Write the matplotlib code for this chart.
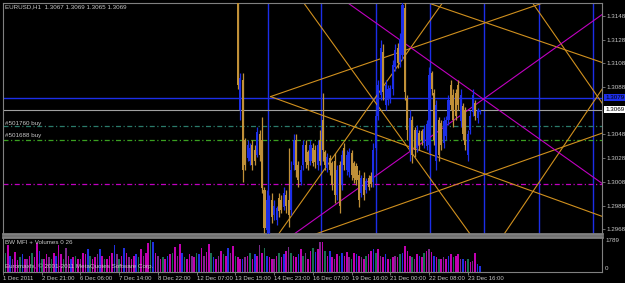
import matplotlib
matplotlib.use("Agg")
import matplotlib.pyplot as plt
import matplotlib.transforms as mtransforms

# EURUSD H1 candles (two hours per candle), position = bar index from 1 Dec 00:00
candle_bars = list(range(194, 396, 2))
opens = [1.3170, 1.3069, 1.3094, 1.3043, 1.3028, 1.3026, 1.3039, 1.3035, 1.3031, 1.3048,
         1.3043, 1.3001, 1.2967, 1.2969, 1.2993, 1.2980, 1.2976, 1.2994, 1.2993, 1.2987,
         1.2997, 1.2993, 1.2984, 1.3022, 1.3043, 1.3022, 1.3008, 1.3022, 1.3039, 1.3033,
         1.3026, 1.3037, 1.3035, 1.3022, 1.3043, 1.3060, 1.3033, 1.3020, 1.3028, 1.3024,
         1.3026, 1.2997, 1.3022, 1.3005, 1.3037, 1.3018, 1.3016, 1.3032, 1.3024, 1.3021,
         1.3014, 1.2999, 1.3011, 1.3001, 1.3011, 1.3013, 1.3008, 1.3037, 1.3064, 1.3081,
         1.3118, 1.3073, 1.3077, 1.3079, 1.3086, 1.3105, 1.3121, 1.3109, 1.3115, 1.3155,
         1.3079, 1.3035, 1.3060, 1.3052, 1.3037, 1.3049, 1.3051, 1.3041, 1.3038, 1.3039,
         1.3100, 1.3083, 1.3026, 1.3060, 1.3058, 1.3041, 1.3047, 1.3060, 1.3090, 1.3081,
         1.3083, 1.3090, 1.3059, 1.3072, 1.3069, 1.3031, 1.3052, 1.3067, 1.3075, 1.3062,
         1.3067]
highs = [1.3178, 1.3100, 1.3100, 1.3045, 1.3043, 1.3041, 1.3043, 1.3039, 1.3054, 1.3052,
         1.3063, 1.3004, 1.3001, 1.2997, 1.2999, 1.2993, 1.2988, 1.2999, 1.2997, 1.3004,
         1.3001, 1.3037, 1.3026, 1.3048, 1.3048, 1.3026, 1.3022, 1.3043, 1.3043, 1.3035,
         1.3043, 1.3041, 1.3039, 1.3043, 1.3052, 1.3083, 1.3035, 1.3032, 1.3031, 1.3026,
         1.3032, 1.3022, 1.3026, 1.3035, 1.3041, 1.3035, 1.3037, 1.3035, 1.3026, 1.3024,
         1.3018, 1.3014, 1.3016, 1.3011, 1.3014, 1.3016, 1.3041, 1.3069, 1.3094, 1.3128,
         1.3124, 1.3094, 1.3090, 1.3090, 1.3111, 1.3124, 1.3125, 1.3134, 1.3170, 1.3162,
         1.3081, 1.3069, 1.3064, 1.3054, 1.3056, 1.3052, 1.3053, 1.3056, 1.3060, 1.3105,
         1.3102, 1.3086, 1.3077, 1.3063, 1.3060, 1.3063, 1.3064, 1.3081, 1.3094, 1.3086,
         1.3086, 1.3094, 1.3086, 1.3075, 1.3071, 1.3052, 1.3069, 1.3086, 1.3077, 1.3070,
         1.3069]
lows = [1.3086, 1.3060, 1.3008, 1.3018, 1.3026, 1.3022, 1.3018, 1.3022, 1.3029, 1.3026,
        1.2999, 1.2965, 1.2964, 1.2964, 1.2973, 1.2976, 1.2972, 1.2978, 1.2982, 1.2984,
        1.2982, 1.2970, 1.2980, 1.3018, 1.3012, 1.3004, 1.3005, 1.3018, 1.3020, 1.3018,
        1.3022, 1.3021, 1.3020, 1.3018, 1.3022, 1.3026, 1.3018, 1.3016, 1.3014, 1.3001,
        1.2990, 1.2993, 1.2982, 1.3001, 1.3018, 1.3014, 1.3012, 1.3010, 1.3007, 1.3005,
        1.2987, 1.2995, 1.2993, 1.2999, 1.3001, 1.3004, 1.3004, 1.3035, 1.3060, 1.3077,
        1.3077, 1.3069, 1.3073, 1.3075, 1.3081, 1.3102, 1.3104, 1.3105, 1.3111, 1.3077,
        1.3043, 1.3026, 1.3024, 1.3029, 1.3033, 1.3035, 1.3039, 1.3037, 1.3035, 1.3032,
        1.3081, 1.3039, 1.3018, 1.3026, 1.3035, 1.3037, 1.3043, 1.3056, 1.3069, 1.3054,
        1.3060, 1.3069, 1.3054, 1.3043, 1.3035, 1.3026, 1.3048, 1.3064, 1.3060, 1.3058,
        1.3065]
closes = [1.3090, 1.3096, 1.3018, 1.3022, 1.3039, 1.3037, 1.3022, 1.3026, 1.3050, 1.3031,
          1.3003, 1.2969, 1.2993, 1.2988, 1.2978, 1.2988, 1.2986, 1.2983, 1.2984, 1.2999,
          1.2988, 1.2980, 1.3018, 1.3043, 1.3018, 1.3010, 1.3018, 1.3039, 1.3025, 1.3022,
          1.3039, 1.3024, 1.3025, 1.3039, 1.3026, 1.3035, 1.3022, 1.3029, 1.3018, 1.3005,
          1.2997, 1.3018, 1.2988, 1.3031, 1.3022, 1.3031, 1.3033, 1.3014, 1.3011, 1.3010,
          1.2993, 1.3011, 1.2997, 1.3009, 1.3004, 1.3006, 1.3035, 1.3064, 1.3090, 1.3121,
          1.3084, 1.3090, 1.3086, 1.3087, 1.3107, 1.3119, 1.3108, 1.3129, 1.3157, 1.3084,
          1.3052, 1.3062, 1.3031, 1.3035, 1.3052, 1.3039, 1.3043, 1.3053, 1.3057, 1.3098,
          1.3086, 1.3043, 1.3073, 1.3031, 1.3039, 1.3059, 1.3060, 1.3077, 1.3073, 1.3060,
          1.3064, 1.3073, 1.3081, 1.3048, 1.3039, 1.3048, 1.3064, 1.3081, 1.3064, 1.3069,
          1.3069]

# BW MFI + volumes, every second bar
volume_bars = list(range(0, 396, 2))
volumes = [700, 1050, 1500, 900, 750, 1100, 650, 850, 1000, 750,
           700, 900, 1050, 850, 1600, 1200, 750, 700, 1000, 850,
           750, 1050, 900, 1500, 1000, 750, 1350, 900, 700, 850,
           900, 750, 700, 1050, 1000, 1300, 900, 750, 850, 1000,
           1300, 900, 750, 700, 900, 1050, 1500, 1000, 750, 900,
           1350, 1050, 850, 750, 900, 1000, 850, 1300, 900, 1050,
           1600, 1789, 1650, 1050, 900, 750, 850, 700, 900, 1000,
           1050, 1400, 900, 1550, 1050, 850, 750, 1000, 900, 850,
           1050, 1000, 1350, 900, 1100, 1550, 1050, 850, 750, 900,
           1150, 1000, 900, 1350, 1050, 1450, 900, 850, 750, 700,
           850, 900, 1050, 750, 1000, 900, 1500, 1050, 1350, 900,
           850, 750, 700, 900, 1050, 850, 1000, 1150, 1400, 1050,
           900, 850, 1000, 1300, 900, 1050, 750, 1150, 1350, 1100,
           1300, 1650, 1700, 1150, 900, 1150, 850, 750, 1000, 900,
           1050, 900, 1100, 850, 750, 1050, 1000, 900, 850, 750,
           900, 1000, 1150, 1300, 1050, 1300, 900, 850, 1000, 750,
           700, 850, 900, 850, 1000, 1050, 1450, 1150, 900, 850,
           750, 1000, 900, 850, 1050, 1150, 1300, 1100, 900, 850,
           750, 700, 850, 750, 900, 1000, 850, 900, 1000, 750,
           700, 600, 750, 550, 600, 1050, 450, 350]
mfi_state = ("pgpbfppgbpfpgppbgp" "pfgpbppgfpbpgpfppb" "gppfbpgpppbfgpbpfp"
             "pbgpfppgbpfpgpbpgp" "fpbgppfpgbpfppgbpf" "pgpbfpgppbfpgpbpfp"
             "gbppfpgpbpfgppbpgf" "ppgbpfpgpbpfpgbppf" "gpbpfpgppbgpfpbpgp"
             "fpgbpppgfpbpgpfpbp" "gpfpbpgppfbpgpfpbb")

# time axis labels, one every 32 bars
time_labels = ["1 Dec 2011", "2 Dec 21:00", "6 Dec 06:00", "7 Dec 14:00", "8 Dec 22:00",
               "12 Dec 07:00", "13 Dec 15:00", "14 Dec 23:00", "16 Dec 07:00",
               "19 Dec 16:00", "21 Dec 00:00", "22 Dec 08:00", "23 Dec 16:00"]
time_ticks = list(range(0, 385, 32))
price_ticks = [1.2968, 1.2988, 1.3008, 1.3028, 1.3048, 1.3088, 1.3108, 1.3128, 1.3148]

# drawn objects: trendlines (bar, price) -> (bar, price)
orange_x0 = [221, 221, 340, 250, 220, 240, 410, 430]
orange_p0 = [1.3080, 1.3080, 1.3163, 1.2961, 1.2953, 1.3171, 1.2958, 1.3170]
orange_x1 = [500, 500, 500, 500, 372, 395, 500, 500]
orange_p1 = [1.3178, 1.2977, 1.3107, 1.3051, 1.3172, 1.2951, 1.3094, 1.3067]
magenta_x0 = [235, 278]
magenta_p0 = [1.2960, 1.3164]
magenta_x1 = [500, 500]
magenta_p1 = [1.3153, 1.3003]
vertical_lines = [218.6, 263, 308.5, 353, 397.5, 443, 487.4]
blue_level = 1.3079
bid = 1.3069
order_levels = [1.3055, 1.3043]
order_names = ["#501760 buy", "#501688 buy"]
stop_level = 1.3006

BG = "black"
FG = "#c8c8c8"
GRID = "#808080"
ORANGE = "#d0901e"
CANDLE_DN = "#c09038"
MAGENTA = "#c000c0"
BLUE = "#1c2ee8"
FS = 4.5
plt.rcParams["font.family"] = ["Liberation Sans", "DejaVu Sans"]

fig = plt.figure(figsize=(6.25, 2.83), dpi=100, facecolor=BG)
W, H = 625.0, 283.0
ax = fig.add_axes([3 / W, 1 - 234 / H, 599 / W, 231 / H], facecolor=BG)
axv = fig.add_axes([3 / W, 1 - 272 / H, 599 / W, 35 / H], facecolor=BG, sharex=ax)

# levels and drawn lines
for x in vertical_lines:
    ax.axvline(x, color=BLUE, lw=1.0, zorder=1)
ax.axhline(blue_level, color=BLUE, lw=1.0, zorder=1)
ax.axhline(bid, color="#a0a0a0", lw=0.8, zorder=1)
ax.axhline(order_levels[0], color="#2a7a6a", lw=0.9, ls=(0, (4, 2, 1, 2)), zorder=1)
ax.axhline(order_levels[1], color="#3aa020", lw=0.9, ls=(0, (4, 2, 1, 2)), zorder=1)
ax.axhline(stop_level, color=MAGENTA, lw=0.9, ls=(0, (4, 2, 1, 2)), zorder=1)
for x0, p0, x1, p1 in zip(orange_x0, orange_p0, orange_x1, orange_p1):
    ax.plot([x0, x1], [p0, p1], color=ORANGE, lw=0.8, zorder=2)
for x0, p0, x1, p1 in zip(magenta_x0, magenta_p0, magenta_x1, magenta_p1):
    ax.plot([x0, x1], [p0, p1], color=MAGENTA, lw=0.8, zorder=2)

# candles
cols = [BLUE if c >= o else CANDLE_DN for o, c in zip(opens, closes)]
ax.vlines(candle_bars, lows, highs, colors=cols, lw=0.9, zorder=3)
bodies = [max(abs(c - o), 0.00005) for o, c in zip(opens, closes)]
ax.bar(candle_bars, bodies, bottom=[min(o, c) for o, c in zip(opens, closes)],
       width=1.7, color=cols, zorder=3)

ax.set_xlim(0.8, 494.8)
ax.set_ylim(1.2964, 1.3159)
ax.yaxis.tick_right()
ax.set_yticks(price_ticks)
ax.set_yticklabels(["%.4f" % p for p in price_ticks])
ax.tick_params(axis="y", colors=GRID, labelcolor=FG, labelsize=FS, length=2, width=0.6, pad=1.5)
ax.tick_params(axis="x", bottom=False, labelbottom=False)
for s in ax.spines.values():
    s.set_color(GRID)
    s.set_linewidth(0.8)
ax.spines["bottom"].set_linewidth(2)

# price boxes on the scale
tr = mtransforms.blended_transform_factory(ax.transAxes, ax.transData)
ax.text(1.005, blue_level, "1.3079", transform=tr, fontsize=FS, color="black", va="center",
        bbox=dict(boxstyle="square,pad=0.15", fc=BLUE, ec="none"))
ax.text(1.005, bid, "%.4f" % bid, transform=tr, fontsize=FS, color="black", va="center",
        bbox=dict(boxstyle="square,pad=0.15", fc="white", ec="none"))

# volumes
vcol = {"p": "#c000b0", "g": "#1a7050", "b": "#2030e0", "f": "#7a2a8a"}
axv.bar(volume_bars, volumes, width=1.3, color=[vcol[s] for s in mfi_state], zorder=2)
axv.set_ylim(0, 1957)
axv.set_yticks([])
axv.set_xticks(time_ticks)
axv.set_xticklabels(time_labels, ha="left")
axv.tick_params(axis="x", colors=GRID, labelcolor=FG, labelsize=4.3, length=2, width=0.6, pad=1)
for s in axv.spines.values():
    s.set_color(GRID)
    s.set_linewidth(0.8)
axv.spines["top"].set_linewidth(2)

# texts
fig.text(5 / W, 1 - 7 / H, "EURUSD,H1  1.3067 1.3069 1.3065 1.3069", fontsize=FS, color=FG, va="center")
for name, y in zip(order_names, [123, 136]):
    fig.text(5 / W, 1 - y / H, name, fontsize=FS, color=FG, va="center")
fig.text(5 / W, 1 - 242 / H, "BW MFI + Volumes 0 26", fontsize=FS, color=FG, va="center")
fig.text(5 / W, 1 - 266 / H, "Euromaxfx, \u00a9 2001-2011 MetaQuotes Software Corp.", fontsize=FS, color=FG, va="center")
fig.text(605 / W, 1 - 240 / H, "1789", fontsize=FS, color=FG, va="center")
fig.text(605 / W, 1 - 268 / H, "0", fontsize=FS, color=FG, va="center")

fig.savefig("out.png", dpi=100, facecolor=BG)
